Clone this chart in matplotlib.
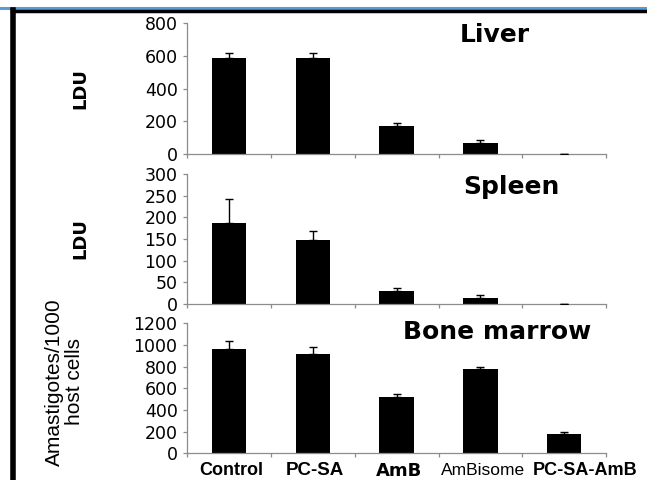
import matplotlib
matplotlib.use("Agg")
import matplotlib.pyplot as plt
from matplotlib import font_manager
from matplotlib.lines import Line2D

groups = ["Control", "PC-SA", "AmB", "AmBisome", "PC-SA-AmB"]

liver = [588, 588, 169, 69, 3]
liver_err = [27, 31, 20, 14, 0]

spleen = [187, 147, 31, 15, 0.5]
spleen_err = [55, 22, 6, 5, 0]

marrow = [962, 919, 517, 775, 181]
marrow_err = [77, 65, 33, 25, 13]

names = {f.name for f in font_manager.fontManager.ttflist}
narrow = "Liberation Sans Narrow" if "Liberation Sans Narrow" in names else "Liberation Sans"

W, H = 647, 480
fig = plt.figure(figsize=(W / 100, H / 100), dpi=100)

left = 187.3 / W
width = (606 - 187.3) / W
panels = [
    (liver, liver_err, 800, 200, 154, 23, "Liver", (0.734, 0.908), "LDU"),
    (spleen, spleen_err, 300, 50, 304, 174, "Spleen", (0.773, 0.90), "LDU"),
    (marrow, marrow_err, 1200, 200, 453.3, 323.3, "Bone marrow", (0.739, 0.933), None),
]

x = list(range(1, len(groups) + 1))
axes = []
for vals, errs, ymax, step, y0, y1, title, tpos, ylab in panels:
    ax = fig.add_axes([left, 1 - y0 / H, width, (y0 - y1) / H])
    lower = [0] * len(errs)
    ax.bar(x, vals, width=0.41, color="black", zorder=2)
    ax.errorbar(x, vals, yerr=[lower, errs], fmt="none", ecolor="black",
                elinewidth=1, capsize=3, capthick=1, zorder=3)
    ax.set_xlim(0.5, 5.5)
    ax.set_ylim(0, ymax)
    ax.set_yticks(range(0, ymax + 1, step))
    ax.set_xticks([0.5, 1.5, 2.5, 3.5, 4.5, 5.5])
    ax.set_xticklabels([])
    for s in ["top", "right"]:
        ax.spines[s].set_visible(False)
    for s in ["left", "bottom"]:
        ax.spines[s].set_color("#8c8c8c")
        ax.spines[s].set_linewidth(0.9)
    ax.tick_params(axis="both", colors="#8c8c8c", length=3, width=0.9)
    ax.tick_params(axis="y", labelcolor="black", labelsize=12.5, pad=4)
    for lab in ax.get_yticklabels():
        lab.set_family("DejaVu Sans")
    ax.text(tpos[0], tpos[1], title, transform=ax.transAxes, ha="center",
            va="center", fontsize=18, fontweight="bold", family="DejaVu Sans")
    if ylab:
        ax.text(-0.256, 0.5, ylab, transform=ax.transAxes, rotation=90,
                ha="center", va="center", fontsize=13, fontweight="bold",
                family="DejaVu Sans")
    axes.append(ax)

axb = axes[2]
axb.text(-0.294, 0.55, "Amastigotes/1000\nhost cells", transform=axb.transAxes,
         rotation=90, ha="center", va="center", fontsize=15, family=narrow,
         linespacing=1.05)

# category labels in mixed fonts, as in the original
lab_style = {
    "Control": dict(family=narrow, fontweight="bold", fontsize=13),
    "PC-SA": dict(family=narrow, fontweight="bold", fontsize=13.5),
    "AmB": dict(family="DejaVu Sans", fontweight="bold", fontsize=13),
    "AmBisome": dict(family=narrow, fontweight="normal", fontsize=12.5),
    "PC-SA-AmB": dict(family=narrow, fontweight="bold", fontsize=13),
}
lab_shift = [0.02, 0.02, 0.03, 0.03, 0.25]
for xi, g, dx in zip(x, groups, lab_shift):
    axb.text(xi + dx, -0.135, g, transform=axb.get_xaxis_transform(), ha="center",
             va="center", **lab_style[g])

# frame lines of the source figure
fig.add_artist(Line2D([0, 1], [1 - 8 / H, 1 - 8 / H], color="#5b9bd5", lw=2.2))
fig.add_artist(Line2D([12 / W, 1], [1 - 11 / H, 1 - 11 / H], color="black", lw=2.5))
fig.add_artist(Line2D([12.5 / W, 12.5 / W], [0, 1 - 10 / H], color="black", lw=4))

fig.savefig("out.png", dpi=100)
